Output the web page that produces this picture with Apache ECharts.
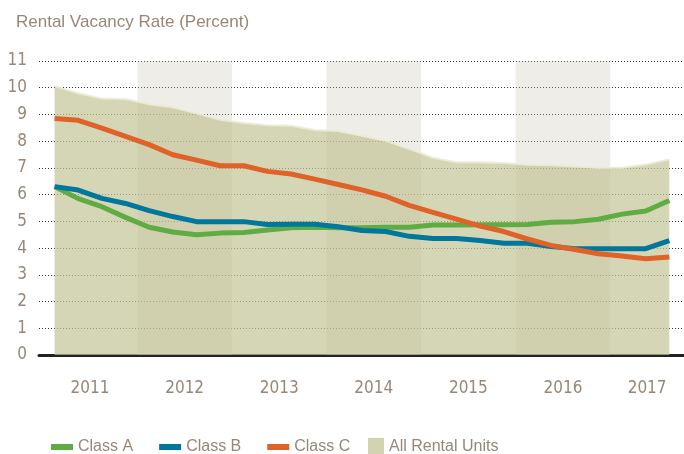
<!DOCTYPE html>
<html>
<head>
<meta charset="utf-8">
<script src="https://cdn.jsdelivr.net/npm/echarts@6/dist/echarts.min.js"></script>
<style>
  html, body { margin: 0; padding: 0; background: #fff; }
  #vacancyChart { width: 684px; height: 454px; }
</style>
</head>
<body>
<div id="vacancyChart"></div>
<script>
// quarterly values, 2011 Q1 .. 2017 Q3
const years = ['2011', '2012', '2013', '2014', '2015', '2016', '2017'];
const classA = [6.3, 5.85, 5.55, 5.15, 4.78, 4.6, 4.5, 4.56, 4.58, 4.68, 4.76, 4.78, 4.76, 4.76, 4.78, 4.78, 4.86, 4.86, 4.87, 4.87, 4.88, 4.97, 4.99, 5.08, 5.27, 5.39, 5.78];
const classB = [6.3, 6.17, 5.86, 5.67, 5.4, 5.18, 4.99, 4.99, 4.99, 4.88, 4.89, 4.89, 4.8, 4.66, 4.62, 4.44, 4.36, 4.36, 4.28, 4.18, 4.18, 4.06, 3.98, 3.98, 3.98, 3.98, 4.28];
const classC = [8.85, 8.78, 8.49, 8.18, 7.87, 7.49, 7.29, 7.08, 7.08, 6.87, 6.77, 6.58, 6.38, 6.18, 5.94, 5.6, 5.34, 5.08, 4.82, 4.62, 4.34, 4.1, 3.95, 3.79, 3.7, 3.6, 3.67];
const allUnits = [10.06, 9.79, 9.6, 9.58, 9.38, 9.27, 9.04, 8.8, 8.68, 8.6, 8.58, 8.42, 8.38, 8.2, 8.02, 7.71, 7.38, 7.21, 7.21, 7.18, 7.12, 7.1, 7.05, 7.01, 7.01, 7.13, 7.32];
const shadedYears = ['2012', '2014', '2016'];

const myChart = echarts.init(document.getElementById('vacancyChart'));

const textColor = '#968779';
const xMin = 2010.96;
const xMax = 2017.78;

// quarter midpoints on a continuous year axis
function toPoints(values) {
  return values.map((v, i) => [2011 + (i + 0.5) / 4, v]);
}

// year labels sit in the middle of each year (last year is cut by the axis end)
const labelPos = years.map(y => {
  const start = +y;
  const end = Math.min(start + 1, xMax);
  return (start + end) / 2;
});

const option = {
  animation: false,
  title: {
    text: 'Rental Vacancy Rate (Percent)',
    left: 11,
    top: 9,
    textStyle: {
      fontFamily: 'Liberation Sans',
      fontSize: 17,
      fontWeight: 'normal',
      color: textColor
    }
  },
  grid: {
    left: 39,
    right: 0,
    top: 61,
    bottom: 99,
    containLabel: false
  },
  legend: [
    {
      left: 46,
      top: 434,
      itemWidth: 22,
      itemHeight: 6,
      itemGap: 26,
      icon: 'rect',
      textStyle: { fontFamily: 'Liberation Sans', fontSize: 16, color: textColor },
      data: ['Class A', 'Class B', 'Class C']
    },
    {
      left: 363,
      top: 433,
      itemWidth: 16,
      itemHeight: 18,
      icon: 'rect',
      textStyle: { fontFamily: 'Liberation Sans', fontSize: 16, color: textColor },
      data: [{ name: 'All Rental Units', itemStyle: { color: '#d3d3b1', opacity: 1 } }]
    }
  ],
  xAxis: {
    type: 'value',
    min: xMin,
    max: xMax,
    axisLine: { show: true, onZero: false, lineStyle: { color: '#222', width: 3 } },
    axisTick: { show: false },
    splitLine: { show: false },
    axisLabel: {
      customValues: labelPos,
      margin: 25,
      fontFamily: 'Liberation Sans Narrow, DejaVu Sans Condensed',
      fontSize: 17,
      color: textColor,
      formatter: function (v) {
        return String(Math.floor(v));
      }
    }
  },
  yAxis: {
    type: 'value',
    min: 0,
    max: 11,
    interval: 1,
    axisLine: { show: false },
    axisTick: { show: false },
    axisLabel: {
      margin: 12,
      fontFamily: 'Liberation Sans Narrow, DejaVu Sans Condensed',
      fontSize: 17,
      color: textColor
    },
    splitLine: {
      lineStyle: { color: '#333', width: 1, type: [1, 2] }
    }
  },
  series: [
    {
      name: 'All Rental Units',
      type: 'line',
      z: 2,
      symbol: 'none',
      data: toPoints(allUnits),
      lineStyle: { color: 'rgba(235,236,215,0.9)', width: 2 },
      itemStyle: { color: '#d3d3b1' },
      areaStyle: { color: 'rgba(195,196,149,0.7)', opacity: 1 },
      markArea: {
        silent: true,
        itemStyle: { color: 'rgba(200,195,180,0.3)' },
        data: shadedYears.map(y => [{ xAxis: +y }, { xAxis: +y + 1 }])
      }
    },
    {
      name: 'Class A',
      type: 'line',
      z: 3,
      symbol: 'none',
      data: toPoints(classA),
      itemStyle: { color: '#5fac43' },
      lineStyle: { color: '#5fac43', width: 5 }
    },
    {
      name: 'Class B',
      type: 'line',
      z: 3,
      symbol: 'none',
      data: toPoints(classB),
      itemStyle: { color: '#00779b' },
      lineStyle: { color: '#00779b', width: 5 }
    },
    {
      name: 'Class C',
      type: 'line',
      z: 3,
      symbol: 'none',
      data: toPoints(classC),
      itemStyle: { color: '#df6228' },
      lineStyle: { color: '#df6228', width: 5 }
    }
  ]
};

myChart.setOption(option);
window.addEventListener('resize', function () {
  myChart.resize();
});
</script>
</body>
</html>
